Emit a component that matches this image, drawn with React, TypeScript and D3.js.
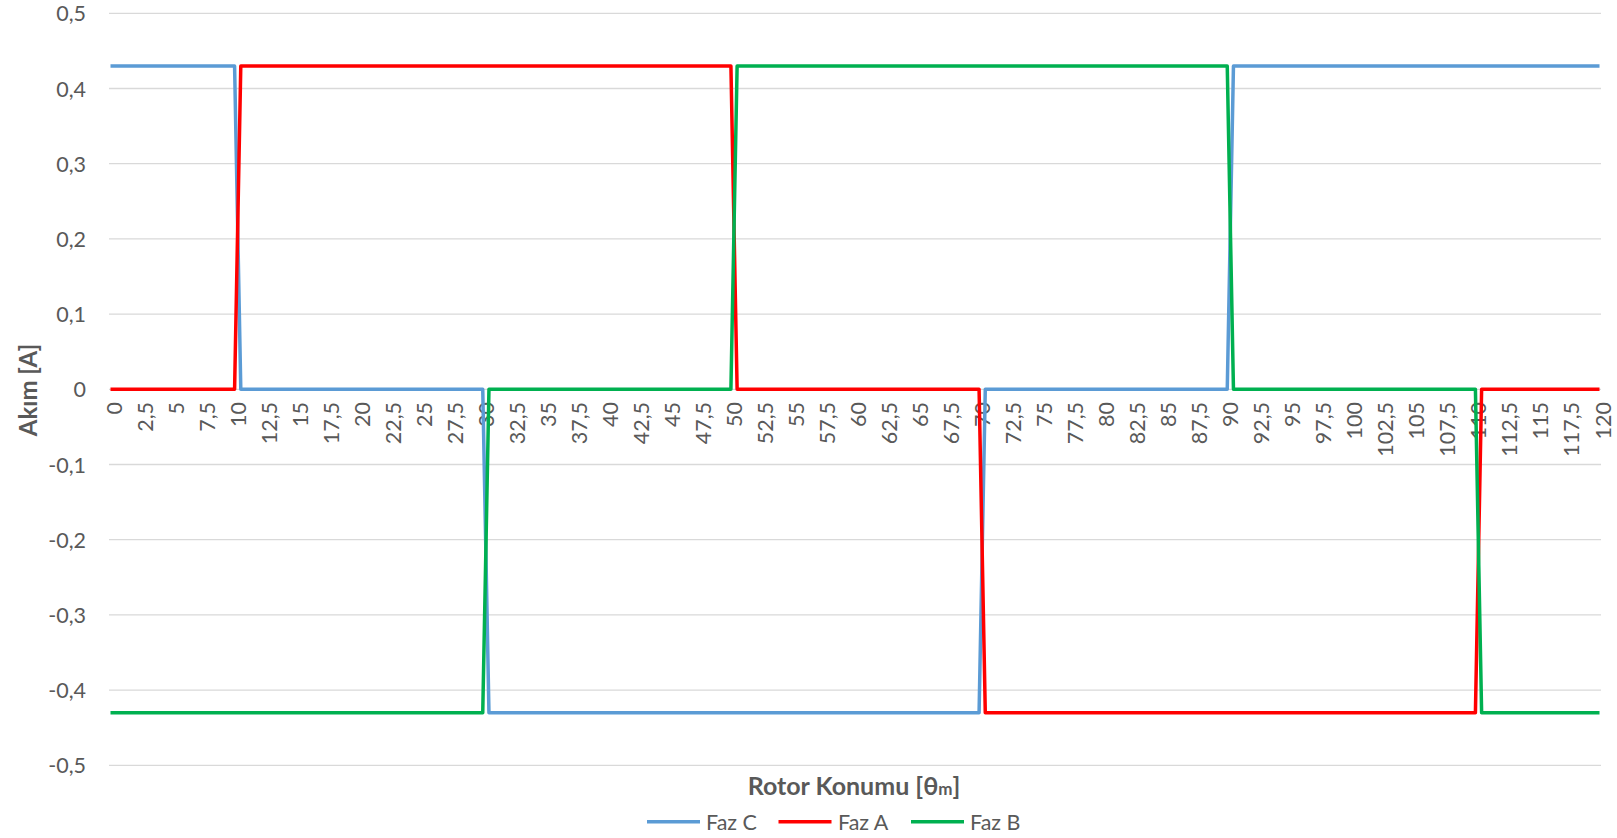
import React from "react";
import * as d3 from "d3";

// Rotor position category labels (every 2.5°)
const xTickLabels = [
  "0", "2,5", "5", "7,5", "10", "12,5", "15", "17,5", "20", "22,5", "25", "27,5",
  "30", "32,5", "35", "37,5", "40", "42,5", "45", "47,5", "50", "52,5", "55", "57,5",
  "60", "62,5", "65", "67,5", "70", "72,5", "75", "77,5", "80", "82,5", "85", "87,5",
  "90", "92,5", "95", "97,5", "100", "102,5", "105", "107,5", "110", "112,5", "115", "117,5", "120",
];
const xTickValues = [
  0, 2.5, 5, 7.5, 10, 12.5, 15, 17.5, 20, 22.5, 25, 27.5,
  30, 32.5, 35, 37.5, 40, 42.5, 45, 47.5, 50, 52.5, 55, 57.5,
  60, 62.5, 65, 67.5, 70, 72.5, 75, 77.5, 80, 82.5, 85, 87.5,
  90, 92.5, 95, 97.5, 100, 102.5, 105, 107.5, 110, 112.5, 115, 117.5, 120,
];
const yTickValues = [0.5, 0.4, 0.3, 0.2, 0.1, 0, -0.1, -0.2, -0.3, -0.4, -0.5];

// Phase currents: corner points of each square wave (angle, current)
const fazCAngles = [0, 10, 10.5, 30, 30.5, 70, 70.5, 90, 90.5, 120];
const fazCValues = [0.43, 0.43, 0, 0, -0.43, -0.43, 0, 0, 0.43, 0.43];

const fazAAngles = [0, 10, 10.5, 50, 50.5, 70, 70.5, 110, 110.5, 120];
const fazAValues = [0, 0, 0.43, 0.43, 0, 0, -0.43, -0.43, 0, 0];

const fazBAngles = [0, 30, 30.5, 50, 50.5, 90, 90.5, 110, 110.5, 120];
const fazBValues = [-0.43, -0.43, 0, 0, 0.43, 0.43, 0, 0, -0.43, -0.43];

const seriesNames = ["Faz C", "Faz A", "Faz B"];
const seriesColors = ["#5B9BD5", "#FF0000", "#00B050"];

const W = 1617;
const H = 838;
const FONT = "Lato, 'Open Sans', sans-serif";
const TEXT = "#595959";

export default function App() {
  const x = d3.scaleLinear().domain([0, 120]).range([110.5, 1599.5]);
  const y = d3.scaleLinear().domain([-0.5, 0.5]).range([765.3, 13.3]);

  const series = [
    { angles: fazCAngles, values: fazCValues },
    { angles: fazAAngles, values: fazAValues },
    { angles: fazBAngles, values: fazBValues },
  ];

  const line = d3
    .line<[number, number]>()
    .x((d) => x(d[0]))
    .y((d) => y(d[1]));

  const fmt = (v: number) => (v === 0 ? "0" : d3.format(".1f")(v).replace(".", ",").replace("−", "-"));

  const legendItems = [
    { lx: 647, tx: 706 },
    { lx: 778.5, tx: 838 },
    { lx: 911, tx: 970 },
  ];

  return (
    <svg
      width={W}
      height={H}
      style={{ position: "absolute", left: 0, top: 0, background: "#fff" }}
      fontFamily={FONT}
    >
      {/* horizontal gridlines */}
      {yTickValues.map((v) => (
        <line key={v} x1={109} x2={1601} y1={y(v)} y2={y(v)} stroke="#D9D9D9" strokeWidth={1.3} />
      ))}
      {/* y tick labels */}
      {yTickValues.map((v) => (
        <text
          key={"yl" + v}
          x={86}
          y={y(v)}
          textAnchor="end"
          dominantBaseline="central"
          fontSize={21.5}
          fill={TEXT}
        >
          {fmt(v)}
        </text>
      ))}
      {/* x tick labels, rotated */}
      {xTickValues.map((v, i) => (
        <text
          key={"xl" + v}
          transform={`translate(${x(v) + 3},${402}) rotate(-90)`}
          textAnchor="end"
          dominantBaseline="central"
          fontSize={21.5}
          fill={TEXT}
        >
          {xTickLabels[i]}
        </text>
      ))}
      {/* phase current lines */}
      {series.map((s, i) => (
        <path
          key={seriesNames[i]}
          d={line(s.angles.map((a, j) => [a, s.values[j]] as [number, number])) || ""}
          fill="none"
          stroke={seriesColors[i]}
          strokeWidth={3.5}
          strokeLinejoin="round"
        />
      ))}
      {/* axis titles */}
      <text
        transform={`translate(27,390) rotate(-90)`}
        textAnchor="middle"
        dominantBaseline="central"
        fontSize={24}
        fontWeight="bold"
        fill={TEXT}
      >
        Akım [A]
      </text>
      <text x={854} y={795} textAnchor="middle" fontSize={25} fontWeight="bold" fill={TEXT}>
        Rotor Konumu [θ<tspan fontSize={17}>m</tspan>]
      </text>
      {/* legend */}
      {legendItems.map((it, i) => (
        <g key={"lg" + i}>
          <line x1={it.lx} x2={it.lx + 53} y1={821.7} y2={821.7} stroke={seriesColors[i]} strokeWidth={3.5} />
          <text x={it.tx} y={821.7} dominantBaseline="central" fontSize={21.5} fill={TEXT}>
            {seriesNames[i]}
          </text>
        </g>
      ))}
    </svg>
  );
}
